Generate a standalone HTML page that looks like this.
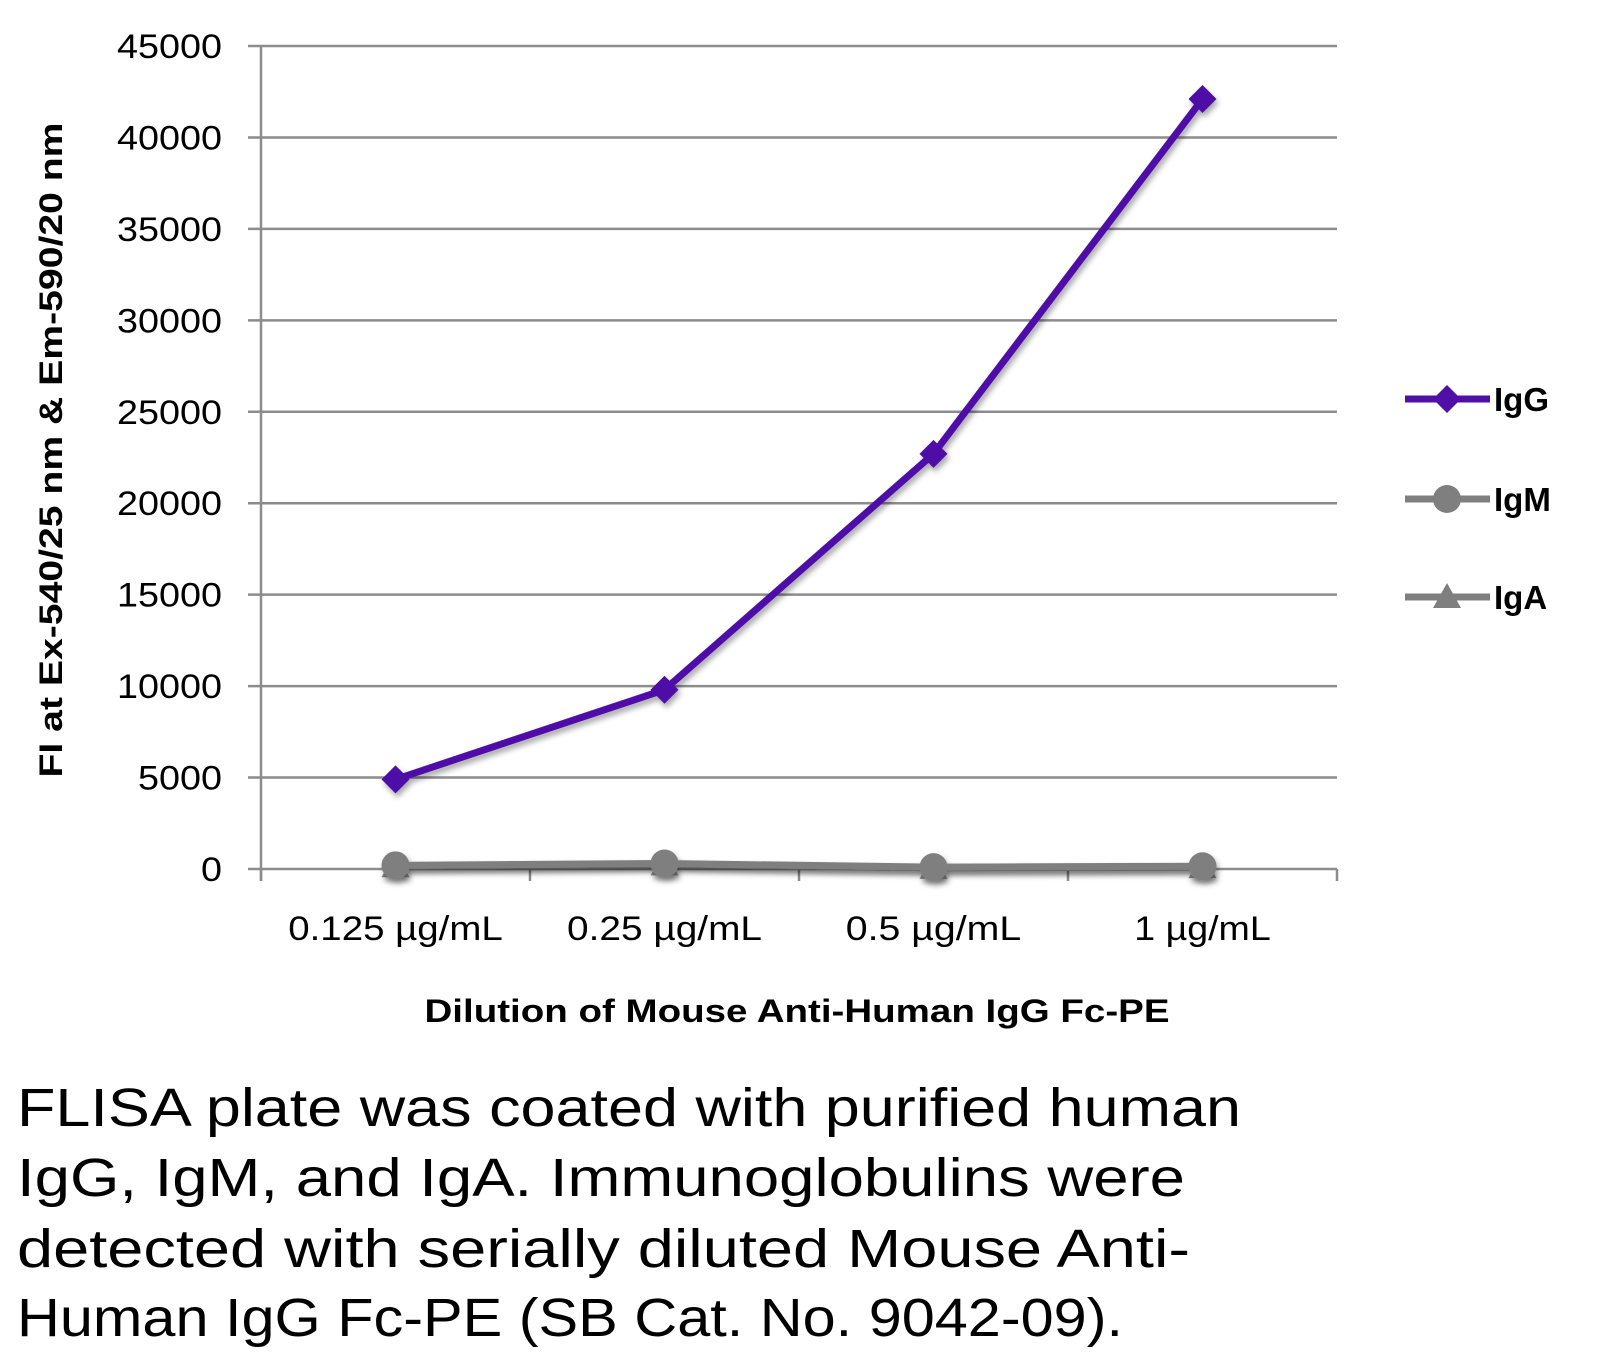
<!DOCTYPE html>
<html><head><meta charset="utf-8"><style>
html,body{margin:0;padding:0;background:#fff;}
svg{display:block;font-family:"Liberation Sans",sans-serif;}
</style></head><body>
<svg id="chart" width="1604" height="1362" viewBox="0 0 1604 1362">
<defs>
<filter id="sh" x="-20%" y="-20%" width="140%" height="160%"><feDropShadow dx="2" dy="4" stdDeviation="3" flood-color="#000" flood-opacity="0.35"/></filter>
</defs>
<g id="grid"></g><g id="axes"></g><g id="series"></g><g id="legend"></g>
<text x="62" y="450" transform="rotate(-90 62 450)" text-anchor="middle" font-size="32" font-weight="bold" textLength="655" lengthAdjust="spacingAndGlyphs">FI at Ex-540/25 nm &amp; Em-590/20 nm</text>
<text x="797" y="1022" text-anchor="middle" font-size="32" font-weight="bold" textLength="745" lengthAdjust="spacingAndGlyphs">Dilution of Mouse Anti-Human IgG Fc-PE</text>
<g font-size="54">
<text x="17" y="1126" textLength="1224" lengthAdjust="spacingAndGlyphs">FLISA plate was coated with purified human</text>
<text x="17" y="1196" textLength="1168" lengthAdjust="spacingAndGlyphs">IgG, IgM, and IgA.  Immunoglobulins were</text>
<text x="17" y="1267" textLength="1173" lengthAdjust="spacingAndGlyphs">detected with serially diluted Mouse Anti-</text>
<text x="17" y="1336" textLength="1106" lengthAdjust="spacingAndGlyphs">Human IgG Fc-PE (SB Cat. No. 9042-09).</text>
</g>
</svg>
<script>
const categories = ["0.125 µg/mL","0.25 µg/mL","0.5 µg/mL","1 µg/mL"];
const igG = [4900, 9800, 22700, 42100];
const igM = [200, 300, 100, 150];
const igA = [150, 250, 60, 100];
const yTicks = [0,5000,10000,15000,20000,25000,30000,35000,40000,45000];
const seriesNames = ["IgG","IgM","IgA"];

const NS="http://www.w3.org/2000/svg";
const L=261,R=1337,T=46,B=869,YMAX=45000;
const x=i=>L+(R-L)/categories.length*(i+0.5);
const y=v=>B-(B-T)*v/YMAX;
function mk(tag,attrs,parent){const e=document.createElementNS(NS,tag);for(const k in attrs)e.setAttribute(k,attrs[k]);parent.appendChild(e);return e;}
const grid=document.getElementById('grid'),axes=document.getElementById('axes'),ser=document.getElementById('series'),leg=document.getElementById('legend');
yTicks.forEach(v=>{
  const g=mk('line',{x1:248,x2:R,y1:y(v),y2:y(v),stroke:'#8c8c8c','stroke-width':2.5},grid);
  
  
  const s=String(v);
  const t=mk('text',{x:222,y:y(v)+12,'text-anchor':'end','font-size':34,textLength:s.length*21,lengthAdjust:'spacingAndGlyphs'},axes);
  t.textContent=s;
  
  
});
const ya=mk('line',{x1:L,x2:L,y1:T,y2:B+12,stroke:'#8c8c8c','stroke-width':2.5},axes);


for(let i=0;i<=categories.length;i++){
  const xx=L+(R-L)/categories.length*i;
  const tk=mk('line',{x1:xx,x2:xx,y1:B,y2:B+12,stroke:'#8c8c8c','stroke-width':2.5},axes);
  
  
}
categories.forEach((c,i)=>{
  const t=mk('text',{x:x(i),y:y(0)+71,'text-anchor':'middle','font-size':34,textLength:c.length*19.5,lengthAdjust:'spacingAndGlyphs'},axes);
  t.textContent=c;
  
  
});
function marker(kind,cx,cy,color,parent){
  let e;
  if(kind==='diamond') e=mk('polygon',{points:`${cx},${cy-14} ${cx+14},${cy} ${cx},${cy+14} ${cx-14},${cy}`,fill:color},parent);
  else if(kind==='circle') e=mk('circle',{cx:cx,cy:cy,r:14,fill:color},parent);
  else e=mk('polygon',{points:`${cx},${cy-14} ${cx+14},${cy+11} ${cx-14},${cy+11}`,fill:color},parent);
  return e;
}
const defs=[[igA,'#7f7f7f','triangle'],[igM,'#7f7f7f','circle'],[igG,'#5010a8','diamond']];
defs.forEach(([vals,col,kind])=>{
  const g=mk('g',{filter:'url(#sh)'},ser);
  const p=mk('polyline',{points:vals.map((v,i)=>x(i)+','+y(v)).join(' '),fill:'none',stroke:col,'stroke-width':7,'stroke-linejoin':'round'},g);
  
  
  vals.forEach((v,i)=>{
    const m=marker(kind,x(i),y(v),col,g);
    
    
  });
});
const legItems=[['IgG','#5010a8','diamond',399],['IgM','#7f7f7f','circle',499],['IgA','#7f7f7f','triangle',597]];
legItems.forEach(([n,col,kind,ly])=>{
  const g=mk('g',{},leg);
  
  
  mk('line',{x1:1405,x2:1490,y1:ly,y2:ly,stroke:col,'stroke-width':7},g);
  marker(kind,1447,ly,col,g);
  const t=mk('text',{x:1494,y:ly+12,'font-size':33,'font-weight':'bold'},g);
  t.textContent=n;
});
</script>
</body></html>
